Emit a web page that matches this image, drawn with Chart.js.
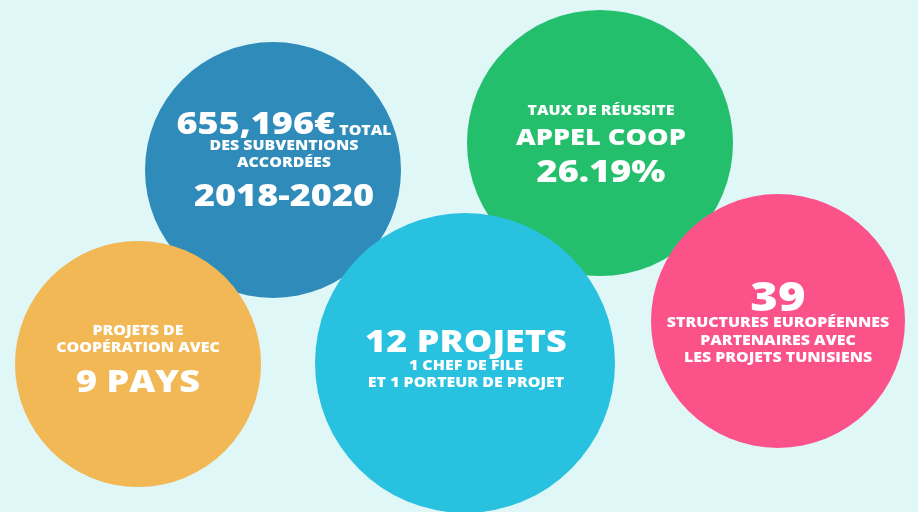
<!DOCTYPE html>
<html>
<head>
<meta charset="utf-8">
<script src="https://cdn.jsdelivr.net/npm/chart.js@4.4.1/dist/chart.umd.min.js"></script>
<style>
  html, body { margin: 0; padding: 0; background: #e0f7f8; }
  #wrap { width: 918px; height: 512px; position: relative; }
</style>
</head>
<body>
<div id="wrap"><canvas id="bubbles"></canvas></div>
<script>
// circles, in draw order (later ones sit on top)
const circleNames = ['subventions', 'reussite', 'pays', 'projets', 'structures'];
const circleX = [273, 600, 138, 465, 778];
const circleY = [170, 143, 364, 363, 321];
const circleR = [128, 133, 123, 150, 127];
const circleColors = ['#2e8bba', '#23bf6d', '#f1b855', '#29c1e0', '#fb528a'];

// text of each circle, line by line: [segment text, size key]
const circleLines = [
  [[['655,196€', 'big'], [' TOTAL', 'small']], [['DES SUBVENTIONS', 'small']], [['ACCORDÉES', 'small']], [['2018-2020', 'big']]],
  [[['TAUX DE RÉUSSITE', 'small']], [['APPEL COOP', 'mid']], [['26.19%', 'big']]],
  [[['PROJETS DE', 'small']], [['COOPÉRATION AVEC', 'small']], [['9 PAYS', 'big']]],
  [[['12 PROJETS', 'big']], [['1 CHEF DE FILE', 'small']], [['ET 1 PORTEUR DE PROJET', 'small']]],
  [[['39', 'huge']], [['STRUCTURES EUROPÉENNES', 'small']], [['PARTENAIRES AVEC', 'small']], [['LES PROJETS TUNISIENS', 'small']]]
];

// vertical offsets of each line from the circle centre (px)
const lineOffsets = [
  [-48, -25, -8, 24],
  [-33, -7, 27],
  [-34, -17, 16],
  [-23, 2, 19],
  [-25, 1, 19, 36]
];
const textShiftX = [11, 1, 0, 1, 0];

const FONT_SIZES = { small: 13.5, mid: 23, big: 30.5, huge: 40 };
const FONT_FAMILY = '"Open Sans", Lato, sans-serif';
const STRETCH = 1.18; // the poster font is wider than Open Sans

const circleText = {
  id: 'circleText',
  afterDatasetsDraw(chart) {
    const ctx = chart.ctx;
    const meta = chart.getDatasetMeta(0);
    ctx.save();
    ctx.fillStyle = '#ffffff';
    ctx.textBaseline = 'middle';
    ctx.textAlign = 'left';
    meta.data.forEach((pt, i) => {
      circleLines[i].forEach((line, j) => {
        // measure the whole line first so it can be centred
        let total = 0;
        const parts = line.map(([txt, key]) => {
          ctx.font = `800 ${FONT_SIZES[key]}px ${FONT_FAMILY}`;
          const w = ctx.measureText(txt).width * STRETCH;
          total += w;
          return { txt, key, w };
        });
        let x = pt.x + textShiftX[i] - total / 2;
        const yMid = pt.y + lineOffsets[i][j];
        const maxSize = Math.max(...parts.map(p => FONT_SIZES[p.key]));
        parts.forEach(p => {
          const size = FONT_SIZES[p.key];
          ctx.font = `800 ${size}px ${FONT_FAMILY}`;
          // smaller segments sit on the same baseline as the big one;
          // caps sit a bit above the em middle, so nudge them down
          const dy = (maxSize - size) * 0.36 + maxSize * 0.1;
          ctx.save();
          ctx.translate(x, yMid + dy);
          ctx.scale(STRETCH, 1);
          ctx.fillText(p.txt, 0, 0);
          ctx.restore();
          x += p.w;
        });
      });
    });
    ctx.restore();
  }
};

const points = circleNames.map((name, i) => ({ x: circleX[i], y: circleY[i], r: circleR[i] }));

new Chart(document.getElementById('bubbles'), {
  type: 'bubble',
  data: {
    datasets: [{
      label: 'Chiffres clés',
      data: points,
      backgroundColor: circleColors,
      borderWidth: 0,
      hoverRadius: 0
    }]
  },
  options: {
    responsive: true,
    maintainAspectRatio: false,
    animation: false,
    layout: { padding: 0, autoPadding: false },
    clip: false,
    plugins: { legend: { display: false }, tooltip: { enabled: false } },
    scales: {
      x: { type: 'linear', min: 0, max: 918, display: false },
      y: { type: 'linear', min: 0, max: 512, reverse: true, display: false }
    }
  },
  plugins: [circleText]
});
</script>
</body>
</html>
